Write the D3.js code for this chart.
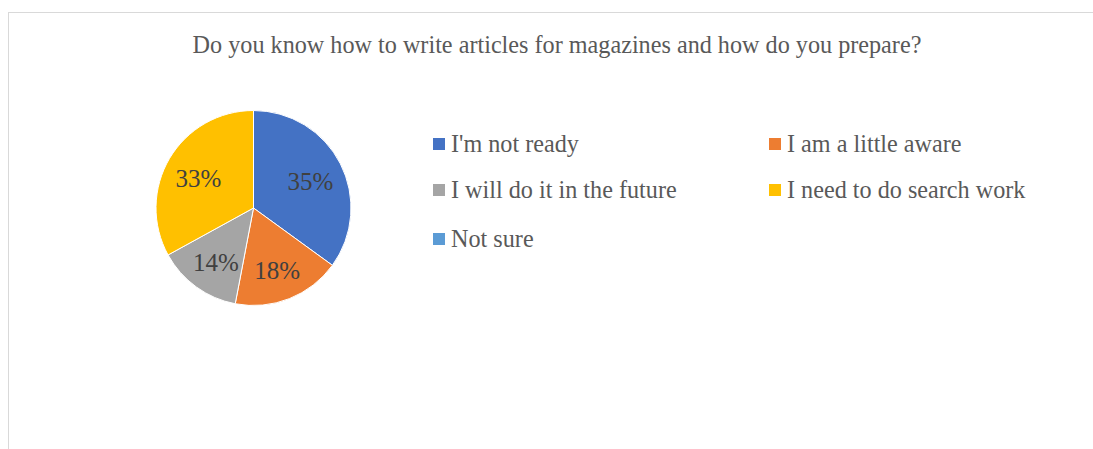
<!DOCTYPE html>
<html>
<head>
<meta charset="utf-8">
<script src="https://cdn.jsdelivr.net/npm/d3@7"></script>
<style>
  html, body { margin: 0; padding: 0; background: #fff; }
  svg { display: block; }
</style>
</head>
<body>
<svg id="chart" width="1093" height="449"></svg>
<script>
// Survey answers and their shares (percent)
const categories = ["I'm not ready", "I am a little aware", "I will do it in the future", "I need to do search work", "Not sure"];
const shares = [35, 18, 14, 33, 0];
const colors = ["#4472C4", "#ED7D31", "#A5A5A5", "#FFC000", "#5B9BD5"];
const title = "Do you know how to write articles for magazines and how do you prepare?";

const svg = d3.select("#chart");
const W = 1093, H = 449;
const serif = "'Liberation Serif', 'Times New Roman', serif";

// chart frame
svg.append("rect")
  .attr("x", 8.5).attr("y", 12.5)
  .attr("width", W + 10).attr("height", H + 10)
  .attr("fill", "#fff").attr("stroke", "#d9d9d9").attr("stroke-width", 1);

// title
svg.append("text")
  .attr("x", 557).attr("y", 53)
  .attr("text-anchor", "middle")
  .attr("font-family", serif)
  .attr("font-size", 24.2)
  .attr("fill", "#595959")
  .text(title);

// pie
const cx = 253.5, cy = 208, R = 97.5;
const data = categories.map((c, i) => ({ name: c, value: shares[i], color: colors[i] }));
const pie = d3.pie().sort(null).value(d => d.value);
const arcs = pie(data);
const arc = d3.arc().innerRadius(0).outerRadius(R);
const labelArc = d3.arc().innerRadius(64).outerRadius(64);

const g = svg.append("g").attr("transform", `translate(${cx},${cy})`);
g.selectAll("path.slice")
  .data(arcs.filter(d => d.data.value > 0))
  .join("path")
  .attr("class", "slice")
  .attr("d", arc)
  .attr("fill", d => d.data.color)
  .attr("stroke", "#fff")
  .attr("stroke-width", 1);

g.selectAll("text.lbl")
  .data(arcs.filter(d => d.data.value > 0))
  .join("text")
  .attr("class", "lbl")
  .attr("transform", d => `translate(${labelArc.centroid(d)})`)
  .attr("text-anchor", "middle")
  .attr("dy", "0.45em")
  .attr("font-family", serif)
  .attr("font-size", 25)
  .attr("fill", "#404040")
  .text(d => d.data.value + "%");

// legend: two columns, three rows
const colX = [433, 769];
const rowY = [144, 190, 239];
const leg = svg.append("g");
const items = leg.selectAll("g.item")
  .data(data)
  .join("g")
  .attr("class", "item")
  .attr("transform", (d, i) => `translate(${colX[i % 2]},${rowY[Math.floor(i / 2)]})`);
items.append("rect")
  .attr("x", 0).attr("y", -6)
  .attr("width", 12).attr("height", 12)
  .attr("fill", d => d.color);
items.append("text")
  .attr("x", 18).attr("y", 0)
  .attr("dy", "0.35em")
  .attr("font-family", serif)
  .attr("font-size", 24.2)
  .attr("fill", "#595959")
  .text(d => d.name);
</script>
</body>
</html>
